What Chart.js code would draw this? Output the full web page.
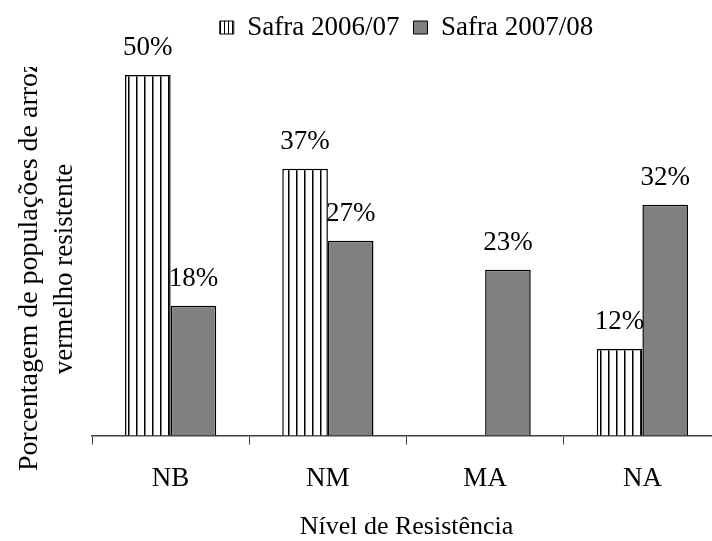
<!DOCTYPE html>
<html>
<head>
<meta charset="utf-8">
<script src="https://cdn.jsdelivr.net/npm/chart.js@4/dist/chart.umd.min.js"></script>
<style>
  html, body { margin: 0; padding: 0; background: #fff; overflow: hidden; }
  #wrap { width: 740px; height: 541px; }
</style>
</head>
<body>
<div id="wrap"><canvas id="c" width="740" height="541"></canvas></div>
<script>
const categories = ['NB', 'NM', 'MA', 'NA'];
const seriesNames = ['Safra 2006/07', 'Safra 2007/08'];
const safra0607 = [50, 37, null, 12];
const safra0708 = [18, 27, 23, 32];
const xTitle = 'Nível de Resistência';
const yTitleLines = ['Porcentagem de populações de arroz', 'vermelho resistente'];

const FONT = "'Liberation Serif', 'Times New Roman', serif";

function stripePattern(period, lw) {
  const c = document.createElement('canvas');
  c.width = period; c.height = period;
  const g = c.getContext('2d');
  g.fillStyle = '#fff';
  g.fillRect(0, 0, period, period);
  g.fillStyle = '#000';
  g.fillRect(0, 0, lw, period);
  return g.createPattern(c, 'repeat');
}
const barStripes = stripePattern(8, 1.5);
const legendStripes = stripePattern(4, 1);

const dataLabels = {
  id: 'dataLabels',
  afterDatasetsDraw(chart) {
    const ctx = chart.ctx;
    ctx.save();
    ctx.font = '27px ' + FONT;
    ctx.fillStyle = '#000';
    ctx.textAlign = 'center';
    ctx.textBaseline = 'alphabetic';
    chart.data.datasets.forEach((ds, di) => {
      const meta = chart.getDatasetMeta(di);
      meta.data.forEach((bar, i) => {
        const v = ds.data[i];
        if (v === null || v === undefined) return;
        ctx.fillText(v + '%', bar.x, bar.y - 20);
      });
    });
    ctx.restore();
  }
};

const yTitle = {
  id: 'yTitle',
  afterDraw(chart) {
    const ctx = chart.ctx;
    ctx.save();
    ctx.beginPath();
    ctx.rect(0, 67, 92, 541 - 67);
    ctx.clip();
    ctx.fillStyle = '#000';
    ctx.textBaseline = 'alphabetic';
    // first line: starts near the bottom and runs upward, clipped at the top
    ctx.save();
    ctx.font = '28px ' + FONT;
    ctx.textAlign = 'left';
    ctx.translate(37, 471);
    ctx.rotate(-Math.PI / 2);
    ctx.fillText(yTitleLines[0], 0, 0);
    ctx.restore();
    // second line: centred
    ctx.save();
    ctx.font = '27px ' + FONT;
    ctx.textAlign = 'center';
    ctx.translate(72, 269);
    ctx.rotate(-Math.PI / 2);
    ctx.fillText(yTitleLines[1], 0, 0);
    ctx.restore();
    ctx.restore();
  }
};

new Chart(document.getElementById('c'), {
  type: 'bar',
  data: {
    labels: categories,
    datasets: [
      {
        label: seriesNames[0],
        data: safra0607,
        backgroundColor: barStripes,
        borderColor: '#000',
        borderWidth: 1.5,
        categoryPercentage: 0.58,
        barPercentage: 1.0
      },
      {
        label: seriesNames[1],
        data: safra0708,
        backgroundColor: '#808080',
        borderColor: '#000',
        borderWidth: 1.5,
        categoryPercentage: 0.58,
        barPercentage: 1.0
      }
    ]
  },
  options: {
    responsive: false,
    animation: false,
    devicePixelRatio: 1,
    layout: { padding: { left: 92, right: 19, top: 0, bottom: 0 } },
    plugins: {
      legend: {
        display: true,
        position: 'top',
        labels: {
          font: { family: FONT, size: 27 },
          color: '#000',
          boxWidth: 14,
          boxHeight: 13,
          padding: 14,
          generateLabels(chart) {
            const items = Chart.defaults.plugins.legend.labels.generateLabels(chart);
            items[0].fillStyle = legendStripes;
            items.forEach(it => { it.lineWidth = 1; it.strokeStyle = '#000'; });
            return items;
          }
        }
      },
      tooltip: { enabled: false }
    },
    scales: {
      x: {
        grid: {
          display: true,
          drawOnChartArea: false,
          drawTicks: true,
          tickLength: 9,
          color: '#404040',
          lineWidth: 1,
          offset: true
        },
        border: { display: true, color: '#404040', width: 1.5 },
        ticks: {
          font: { family: FONT, size: 27 },
          color: '#000',
          padding: 18
        },
        title: {
          display: true,
          text: xTitle,
          font: { family: FONT, size: 26, lineHeight: 1 },
          color: '#000',
          padding: { top: 0, bottom: 0.5 }
        },
        afterFit(scale) { scale.height = 541 - 435.5; }
      },
      y: {
        display: false,
        min: 0,
        max: 53.33
      }
    }
  },
  plugins: [dataLabels, yTitle]
});
</script>
</body>
</html>
